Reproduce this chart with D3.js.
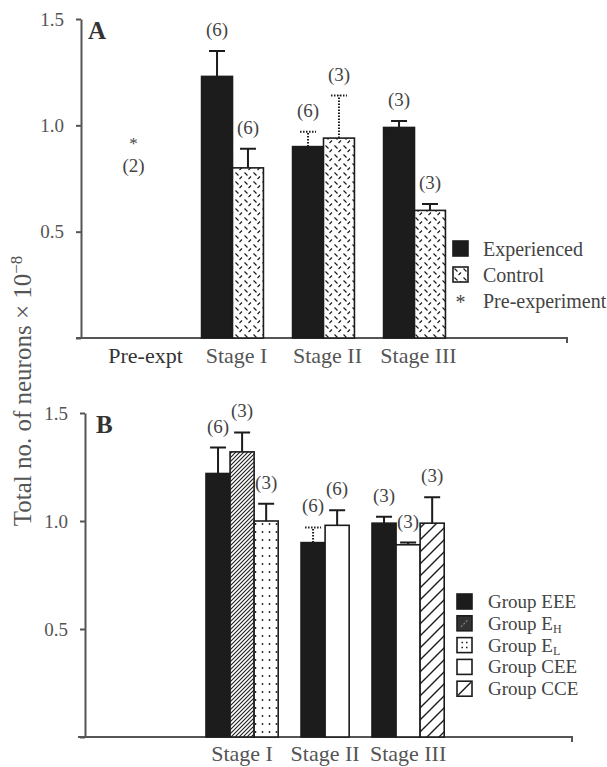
<!DOCTYPE html>
<html>
<head>
<meta charset="utf-8">
<script src="https://cdn.jsdelivr.net/npm/d3@7"></script>
<style>
  body { margin: 0; background: #fff; }
  text { font-family: "Liberation Serif", "Times New Roman", serif; }
</style>
</head>
<body>
<div id="chart"></div>
<script>
// ---- Panel A data (total neurons x 10^-8) ----
const stagesA = ["Pre-expt", "Stage I", "Stage II", "Stage III"];
const experiencedMean = [null, 1.23, 0.90, 0.99];
const experiencedSem  = [null, 0.12, 0.07, 0.03];
const experiencedN    = [null, 6, 6, 3];
const controlMean = [null, 0.80, 0.94, 0.60];
const controlSem  = [null, 0.09, 0.20, 0.03];
const controlN    = [null, 6, 3, 3];
const preExptMean = 0.93;
const preExptN = 2;

// ---- Panel B data ----
const stagesB = ["Stage I", "Stage II", "Stage III"];
const eeeMean = [1.22, 0.90, 0.99], eeeSem = [0.12, 0.07, 0.03], eeeN = [6, 6, 3];
const ehMean  = [1.32, null, null], ehSem  = [0.09, null, null], ehN  = [3, null, null];
const elMean  = [1.00, null, null], elSem  = [0.08, null, null], elN  = [3, null, null];
const ceeMean = [null, 0.98, 0.89], ceeSem = [null, 0.07, 0.01], ceeN = [null, 6, 3];
const cceMean = [null, null, 0.99], cceSem = [null, null, 0.12], cceN = [null, null, 3];

const yTicks = [0, 0.5, 1.0, 1.5];
const legendA = ["Experienced", "Control", "Pre-experiment"];
const legendB = [["Group EEE", ""], ["Group E", "H"], ["Group E", "L"], ["Group CEE", ""], ["Group CCE", ""]];

// error bars drawn dotted in the original
const dottedA = ["Stage II"];
const dottedB = ["Stage II|EEE"];

const ink = "#1c1c1c", grey = "#555";

const svg = d3.select("#chart").append("svg")
    .attr("width", 607)
    .attr("height", 767);

// fill patterns
const defs = svg.append("defs");
function pattern(id, w, h, d, sw, dots) {
    const p = defs.append("pattern").attr("id", id)
        .attr("patternUnits", "userSpaceOnUse")
        .attr("width", w).attr("height", h);
    p.append("rect").attr("width", w).attr("height", h).attr("fill", "#fff");
    if (d) p.append("path").attr("d", d).attr("stroke", ink).attr("stroke-width", sw).attr("fill", "none");
    if (dots) dots.forEach(c => p.append("circle").attr("cx", c[0]).attr("cy", c[1]).attr("r", 0.9).attr("fill", ink));
}
pattern("ctrl", 9, 9, "M1.5,1.5L4.5,4.5M5.5,8L8,5.5", 1.2);
pattern("eh", 4, 4, "M-1,1L1,-1M0,4L4,0M3,5L5,3", 1.1);
pattern("el", 7, 8, null, 0, [[3.5, 4]]);
pattern("cce", 12, 12, "M-3,3L3,-3M0,12L12,0M9,15L15,9", 1.4);

const fills = {
    Experienced: ink, Control: "url(#ctrl)",
    EEE: ink, EH: "url(#eh)", EL: "url(#el)", CEE: "#fff", CCE: "url(#cce)"
};

// ---- scales ----
const xA = d3.scaleBand().domain(stagesA).range([96, 460]).paddingInner(0.32).paddingOuter(0.16);
const yA = d3.scaleLinear().domain([0, 1.5]).range([338, 19]);
const xB = d3.scaleBand().domain(stagesB).range([200.6, 449.6]).paddingInner(0.13).paddingOuter(0.065);
const yB = d3.scaleLinear().domain([0, 1.5]).range([737, 413]);

// ---- records ----
const recA = [];
stagesA.forEach((s, i) => {
    if (experiencedMean[i] != null) recA.push({ stage: s, key: "Experienced", mean: experiencedMean[i], sem: experiencedSem[i], n: experiencedN[i] });
    if (controlMean[i] != null) recA.push({ stage: s, key: "Control", mean: controlMean[i], sem: controlSem[i], n: controlN[i] });
});
const groupsB = [["EEE", eeeMean, eeeSem, eeeN], ["EH", ehMean, ehSem, ehN], ["EL", elMean, elSem, elN],
                 ["CEE", ceeMean, ceeSem, ceeN], ["CCE", cceMean, cceSem, cceN]];
const recB = [];
stagesB.forEach((s, i) => {
    groupsB.forEach(([key, m, e, n]) => {
        if (m[i] != null) recB.push({ stage: s, key: key, mean: m[i], sem: e[i], n: n[i] });
    });
});

function axes(g, x, y, axisX, x0, x1, labelDx, labelY) {
    const base = y(0);
    g.append("g")
        .attr("transform", `translate(${axisX},0)`)
        .call(d3.axisLeft(y).tickValues(yTicks).tickSize(5).tickSizeOuter(0).tickPadding(12)
            .tickFormat(d => d ? d3.format(".1f")(d) : ""))
        .call(a => a.selectAll("path, line").attr("stroke", grey).attr("stroke-width", 2))
        .call(a => a.selectAll("text").attr("font-family", "Liberation Serif").attr("font-size", 19).attr("fill", grey));
    g.append("path")
        .attr("d", `M${x0},${base}H${x1}v5`)
        .attr("fill", "none").attr("stroke", grey).attr("stroke-width", 2);
    g.append("g").selectAll("text")
        .data(x.domain())
        .join("text")
        .attr("x", d => x(d) + x.bandwidth() / 2 + labelDx)
        .attr("y", labelY)
        .attr("text-anchor", "middle")
        .attr("font-size", 22)
        .attr("fill", d => d === "Pre-expt" ? "#333" : grey)
        .text(d => d);
}

function bars(g, rec, x, y, barW, dotted) {
    const byStage = d3.group(rec, d => d.stage);
    byStage.forEach(list => {
        const off = (x.bandwidth() - list.length * barW) / 2;
        list.forEach((d, j) => { d.x0 = x(d.stage) + off + j * barW; d.cx = d.x0 + barW / 2; });
    });
    const isDot = d => dotted.includes(d.stage) || dotted.includes(d.stage + "|" + d.key);

    g.append("g").selectAll("path")
        .data(rec)
        .join("path")
        .attr("d", d => `M${d.cx},${y(d.mean)}V${y(d.mean + d.sem)}M${d.cx - 8},${y(d.mean + d.sem)}h16`)
        .attr("stroke", ink).attr("stroke-width", 2).attr("fill", "none")
        .attr("stroke-dasharray", d => isDot(d) ? "1.5,1.5" : null);

    g.append("g").selectAll("rect")
        .data(rec)
        .join("rect")
        .attr("x", d => d.x0)
        .attr("y", d => y(d.mean))
        .attr("width", barW)
        .attr("height", d => y(0) - y(d.mean))
        .attr("fill", d => fills[d.key])
        .attr("stroke", ink)
        .attr("stroke-width", 1.6);

    g.append("g").selectAll("text")
        .data(rec)
        .join("text")
        .attr("x", d => d.cx)
        .attr("y", d => y(d.mean + d.sem) - 15)
        .attr("text-anchor", "middle")
        .attr("font-size", 19)
        .attr("fill", "#444")
        .text(d => `(${d.n})`);
}

// ---- Panel A ----
const gA = svg.append("g");
axes(gA, xA, yA, 81, 76, 567, 4, 363);
bars(gA, recA, xA, yA, xA.bandwidth() / 2, dottedA);

const preX = xA("Pre-expt") + xA.bandwidth() / 2 - 8;
gA.append("text").attr("x", preX).attr("y", yA(preExptMean) + 9)
    .attr("text-anchor", "middle").attr("font-size", 17).attr("fill", "#444").text("*");
gA.append("text").attr("x", preX).attr("y", yA(preExptMean) + 32)
    .attr("text-anchor", "middle").attr("font-size", 19).attr("fill", "#444").text(`(${preExptN})`);

gA.append("text").attr("x", 88).attr("y", 39)
    .attr("font-size", 25).attr("font-weight", "bold").attr("fill", "#333").text("A");

// legend A
const legA = gA.append("g").attr("transform", "translate(453,241)")
    .selectAll("g").data(legendA).join("g")
    .attr("transform", (d, i) => `translate(0,${i * 26})`);
legA.filter((d, i) => i < 2).append("rect")
    .attr("width", 15).attr("height", 15)
    .attr("fill", (d, i) => i === 0 ? ink : "url(#ctrl)")
    .attr("stroke", ink).attr("stroke-width", 1.6);
legA.filter((d, i) => i === 2).append("text")
    .attr("x", 7.5).attr("y", 16).attr("text-anchor", "middle")
    .attr("font-size", 20).attr("fill", "#444").text("*");
legA.append("text").attr("x", 30).attr("y", 15)
    .attr("font-size", 20).attr("fill", "#444").text(d => d);

// ---- Panel B ----
const gB = svg.append("g");
axes(gB, xB, yB, 85, 78, 572, 0, 761);
bars(gB, recB, xB, yB, xB.bandwidth() / 3, dottedB);

gB.append("text").attr("x", 96).attr("y", 433)
    .attr("font-size", 25).attr("font-weight", "bold").attr("fill", "#333").text("B");

// legend B
const legKeys = ["EEE", "EH", "EL", "CEE", "CCE"];
const legBFill = { EEE: ink, EH: "#333", EL: "#fff", CEE: "#fff", CCE: "#fff" };
const legB = gB.append("g").attr("transform", "translate(457,594)")
    .selectAll("g").data(legendB).join("g")
    .attr("transform", (d, i) => `translate(0,${i * 21.8})`);
legB.append("rect")
    .attr("width", 15).attr("height", 15)
    .attr("fill", (d, i) => legBFill[legKeys[i]])
    .attr("stroke", ink).attr("stroke-width", 1.6);
legB.filter((d, i) => legKeys[i] === "EH").append("path")
    .attr("d", "M4,11L11,4").attr("stroke", "#888").attr("stroke-width", 1.2).attr("stroke-dasharray", "2,1.5");
legB.filter((d, i) => legKeys[i] === "EL").append("path")
    .attr("d", "M4.5,5h1.5M9,5h1.5M4.5,10h1.5M9,10h1.5").attr("stroke", ink).attr("stroke-width", 1.5);
legB.filter((d, i) => legKeys[i] === "CCE").append("path")
    .attr("d", "M1,14L14,1").attr("stroke", ink).attr("stroke-width", 1.4);
const legBText = legB.append("text").attr("x", 31).attr("y", 14)
    .attr("font-size", 19).attr("fill", "#444");
legBText.append("tspan").text(d => d[0]);
legBText.append("tspan").attr("dy", 3).attr("font-size", 12).text(d => d[1]);

// ---- shared y title ----
const title = svg.append("text")
    .attr("transform", "translate(31,391) rotate(-90)")
    .attr("text-anchor", "middle")
    .attr("font-size", 25)
    .attr("fill", grey);
title.append("tspan").text("Total no. of neurons × 10");
title.append("tspan").attr("dy", -9).attr("font-size", 17).text("−8");
</script>
</body>
</html>
